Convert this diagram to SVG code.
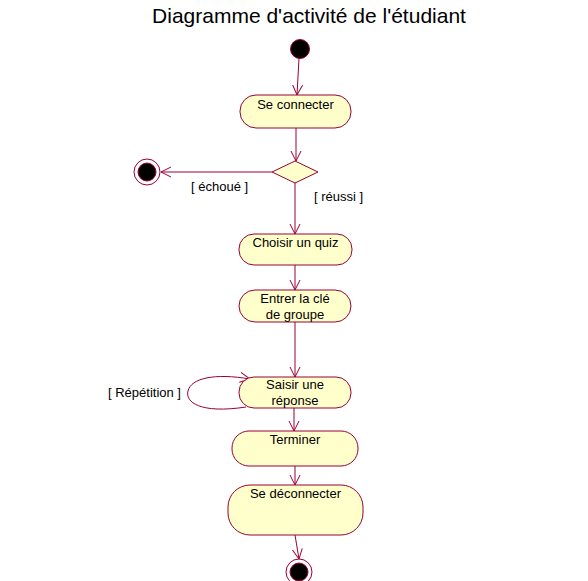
<svg xmlns="http://www.w3.org/2000/svg" width="588" height="581" viewBox="0 0 588 581">
<defs>
<style>
.n{fill:#ffffcc;stroke:#990033;stroke-width:1}
.c{fill:none;stroke:#990033;stroke-width:1}
.t{font-family:"Liberation Sans",Arial,sans-serif;font-size:13px;fill:#000}
.title{font-family:"Liberation Sans",Arial,sans-serif;font-size:21px;fill:#000}
</style>
<marker id="a" markerWidth="12" markerHeight="12" refX="10" refY="6" orient="auto" markerUnits="userSpaceOnUse">
<path d="M0,1 L10,6 L0,11" fill="none" stroke="#990033" stroke-width="1"/>
</marker>
</defs>
<rect width="588" height="581" fill="#fff"/>
<text class="title" x="309" y="23" text-anchor="middle">Diagramme d'activité de l'étudiant</text>
<g id="connectors">
<line class="c" x1="299" y1="58" x2="297" y2="95" marker-end="url(#a)"/>
<line class="c" x1="296" y1="128" x2="296" y2="161" marker-end="url(#a)"/>
<line class="c" x1="272" y1="172" x2="161" y2="172" marker-end="url(#a)"/>
<line class="c" x1="295" y1="183" x2="295" y2="234" marker-end="url(#a)"/>
<line class="c" x1="295" y1="265" x2="295" y2="290" marker-end="url(#a)"/>
<line class="c" x1="295" y1="322" x2="295" y2="377" marker-end="url(#a)"/>
<path class="c" d="M246,407 C200,414 185,402 188,391 C191,378 215,373 250,379" marker-end="url(#a)"/>
<line class="c" x1="294" y1="408" x2="294" y2="431" marker-end="url(#a)"/>
<line class="c" x1="295" y1="466" x2="295" y2="485" marker-end="url(#a)"/>
<line class="c" x1="295" y1="535" x2="299" y2="559" marker-end="url(#a)"/>
<text class="t" x="191" y="191">[ échoué ]</text>
<text class="t" x="314" y="201">[ réussi ]</text>
<text class="t" x="108" y="397">[ Répétition ]</text>
</g>
<g id="start"><circle cx="300" cy="49" r="9.5" fill="#000" stroke="#990033"/></g>
<g id="seConnecter"><rect class="n" x="240" y="95" width="111" height="33" rx="16" ry="16"/><text class="t" x="295.5" y="109" text-anchor="middle">Se connecter</text></g>
<g id="decision"><polygon class="n" points="295,161 318,172 295,183 272,172"/></g>
<g id="finalFail"><circle cx="147" cy="172" r="13" fill="#fff" stroke="#990033"/><circle cx="147" cy="172" r="9" fill="#000" stroke="#990033"/></g>
<g id="choisir"><rect class="n" x="239" y="234" width="113" height="31" rx="15" ry="15"/><text class="t" x="295.5" y="247" text-anchor="middle">Choisir un quiz</text></g>
<g id="entrer"><rect class="n" x="239" y="290" width="112" height="32" rx="16" ry="16"/><text class="t" x="295" y="303" text-anchor="middle">Entrer la clé</text><text class="t" x="295" y="319" text-anchor="middle">de groupe</text></g>
<g id="saisir"><rect class="n" x="239" y="377" width="112" height="31" rx="15" ry="15"/><text class="t" x="295" y="389" text-anchor="middle">Saisir une</text><text class="t" x="295" y="405" text-anchor="middle">réponse</text></g>
<g id="terminer"><rect class="n" x="232" y="431" width="126" height="35" rx="17" ry="17"/><text class="t" x="295" y="444" text-anchor="middle">Terminer</text></g>
<g id="seDeconnecter"><rect class="n" x="228" y="485" width="135" height="50" rx="22" ry="22"/><text class="t" x="295.5" y="498" text-anchor="middle">Se déconnecter</text></g>
<g id="finalEnd"><circle cx="299" cy="572" r="13" fill="#fff" stroke="#990033"/><circle cx="299" cy="572" r="9" fill="#000" stroke="#990033"/></g>
</svg>
